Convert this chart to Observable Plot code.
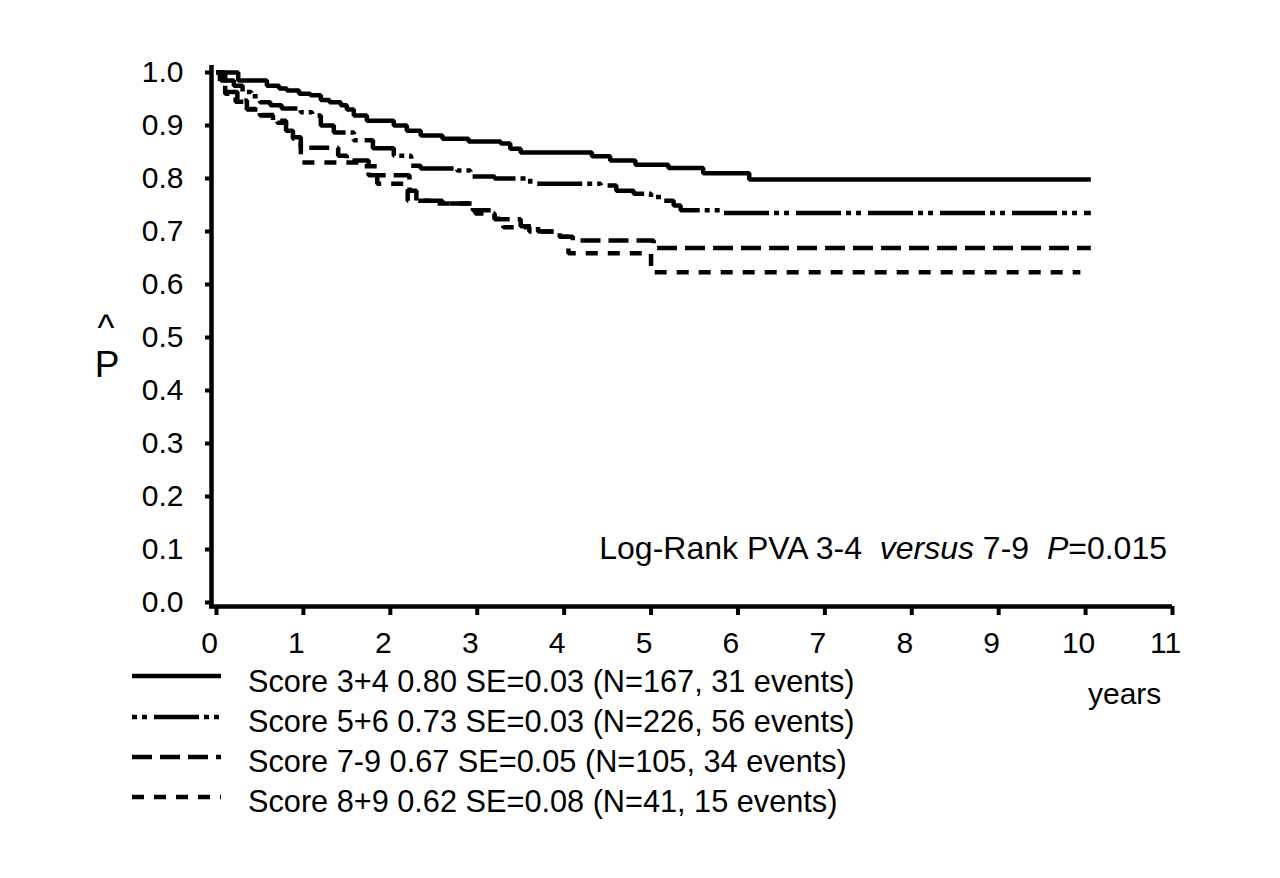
<!DOCTYPE html>
<html><head><meta charset="utf-8">
<script src="https://cdn.jsdelivr.net/npm/d3@7"></script>
<script src="https://cdn.jsdelivr.net/npm/@observablehq/plot@0.6"></script>
<style>
body{margin:0;background:#fff;}
#wrap{position:relative;width:1280px;height:878px;font-family:"Liberation Sans",Arial,sans-serif;background:#fff;}
#over{position:absolute;left:0;top:0;}
</style></head><body><div id="wrap"></div>
<script>
// ---- data ----
const legendLabels = [
  "Score 3+4 0.80 SE=0.03 (N=167, 31 events)",
  "Score 5+6 0.73 SE=0.03 (N=226, 56 events)",
  "Score 7-9 0.67 SE=0.05 (N=105, 34 events)",
  "Score 8+9 0.62 SE=0.08 (N=41, 15 events)"
];
const xTicks = [0,1,2,3,4,5,6,7,8,9,10,11];
const yTicks = [0,0.1,0.2,0.3,0.4,0.5,0.6,0.7,0.8,0.9,1.0];

const t34 = [0,0.25,0.58,0.72,0.81,0.95,1.08,1.2,1.3,1.43,1.5,1.58,1.73,2.04,2.19,2.35,2.6,2.9,3.27,3.38,3.5,4.32,4.53,4.82,5.2,5.6,6.13,10.06];
const s34 = [1.0,0.985,0.975,0.970,0.966,0.960,0.957,0.948,0.944,0.938,0.930,0.919,0.909,0.900,0.890,0.881,0.875,0.870,0.866,0.856,0.849,0.842,0.834,0.826,0.820,0.810,0.798,0.798];

const t56 = [0,0.1,0.2,0.3,0.4,0.5,0.62,0.75,0.97,1.1,1.2,1.35,1.58,1.8,2.04,2.24,2.35,2.77,2.92,3.2,3.61,4.42,4.6,4.8,5.0,5.15,5.26,5.34,5.8,10.06];
const s56 = [1.0,0.985,0.975,0.963,0.955,0.944,0.938,0.932,0.925,0.919,0.900,0.887,0.872,0.857,0.843,0.824,0.819,0.815,0.804,0.800,0.790,0.787,0.777,0.771,0.765,0.758,0.749,0.740,0.735,0.735];

const t79 = [0,0.05,0.12,0.24,0.35,0.5,0.65,0.8,0.88,0.97,1.0,1.4,1.5,1.75,2.22,2.3,2.6,2.95,3.2,3.5,3.7,3.95,4.1,5.03,10.06];
const s79 = [1.0,0.985,0.963,0.947,0.931,0.919,0.909,0.890,0.878,0.859,0.858,0.843,0.834,0.806,0.777,0.758,0.753,0.740,0.723,0.710,0.700,0.690,0.683,0.669,0.669];

const t89 = [0,0.04,0.1,0.22,0.35,0.5,0.7,0.8,0.88,0.97,1.7,1.85,2.2,2.5,2.98,3.2,3.3,3.6,3.95,4.05,5.0,9.94];
const s89 = [1.0,0.980,0.960,0.945,0.930,0.920,0.905,0.890,0.875,0.830,0.823,0.790,0.758,0.753,0.734,0.724,0.708,0.700,0.690,0.659,0.623,0.623];

const logRank = ["Log-Rank PVA 3-4  ", "versus", " 7-9  ", "P", "=0.015"];
const xUnit = "years";
// -----------------------------------

const toRows = (ts, ss) => ts.map((t, i) => ({t, s: ss[i]}));
const series = [
  {rows: toRows(t34, s34), dash: null},
  {rows: toRows(t56, s56), dash: "45 5 5 5 5 7"},
  {rows: toRows(t79, s79), dash: "20 8"},
  {rows: toRows(t89, s89), dash: "12 10"}
];

const FONT = '"Liberation Sans", Arial, sans-serif';
const chart = Plot.plot({
  width: 1280, height: 878,
  marginLeft: 216, marginRight: 108, marginTop: 72, marginBottom: 276,
  x: {domain: [0, 11], label: null},
  y: {domain: [0, 1], label: null},
  style: {fontFamily: FONT, fontSize: "30px", color: "#000", background: "#fff"},
  marks: [
    Plot.ruleX([0], {dx: -5, strokeWidth: 4.5, insetTop: -7, insetBottom: -4}),
    Plot.ruleY([0], {dy: 4, strokeWidth: 4.5, insetLeft: -7}),
    Plot.axisY({ticks: yTicks, tickFormat: d3.format(".1f"), tickSize: 6, tickPadding: 22, dx: -5, strokeWidth: 4, fontSize: 30, label: null}),
    Plot.axisX({ticks: xTicks, tickFormat: () => "", tickSize: 9, dy: 4, strokeWidth: 4, label: null}),
    Plot.axisX({ticks: xTicks, tickFormat: d3.format("d"), tickSize: 0, tickPadding: 25, dy: 4, dx: -7, fontSize: 30, label: null}),
    ...series.map(d => Plot.line(d.rows, {x: "t", y: "s", curve: "step-after", stroke: "#000", strokeWidth: 4.5, strokeDasharray: d.dash, strokeLinecap: "butt", strokeLinejoin: "miter"}))
  ]
});

const wrap = document.getElementById("wrap");
wrap.appendChild(chart);

// overlay: annotation, legend, y-label
const ns = "http://www.w3.org/2000/svg";
const over = document.createElementNS(ns, "svg");
over.setAttribute("id", "over");
over.setAttribute("width", 1280);
over.setAttribute("height", 878);
over.setAttribute("font-family", FONT);
wrap.appendChild(over);

function txt(parent, x, y, content, attrs = {}) {
  const t = document.createElementNS(ns, "text");
  t.setAttribute("x", x); t.setAttribute("y", y);
  for (const k in attrs) t.setAttribute(k, attrs[k]);
  if (content != null) t.textContent = content;
  parent.appendChild(t);
  return t;
}
function tspan(parent, content, attrs = {}) {
  const sp = document.createElementNS(ns, "tspan");
  for (const k in attrs) sp.setAttribute(k, attrs[k]);
  sp.textContent = content;
  parent.appendChild(sp);
  return sp;
}

// Log-rank annotation with italic parts
const lr = txt(over, 1167, 559, null, {"text-anchor": "end", "font-size": 32});
lr.style.whiteSpace = "pre";
logRank.forEach((s, i) => tspan(lr, s, (i === 1 || i === 3) ? {"font-style": "italic"} : {}));

// y label P-hat (one text element, two lines)
const yl = txt(over, 106, 336, null, {"text-anchor": "middle"});
tspan(yl, "^", {x: 106, y: 340, "font-size": 36, "font-family": '"Liberation Sans Narrow", "Liberation Sans", sans-serif'});
tspan(yl, "P", {x: 107, y: 377, "font-size": 37});

// x unit
txt(over, 1088, 704, xUnit, {"font-size": 30});

// legend
const lineY = [676, 717, 757, 797];
const textY = [692, 732, 772, 812];
const offsets = [0, 50, 0, 0];
legendLabels.forEach((lab, i) => {
  const l = document.createElementNS(ns, "line");
  l.setAttribute("x1", 132); l.setAttribute("x2", 221);
  l.setAttribute("y1", lineY[i]); l.setAttribute("y2", lineY[i]);
  l.setAttribute("stroke", "#000"); l.setAttribute("stroke-width", 4.5);
  if (series[i].dash) { l.setAttribute("stroke-dasharray", series[i].dash); l.setAttribute("stroke-dashoffset", offsets[i]); }
  over.appendChild(l);
  txt(over, 248, textY[i], lab, {"font-size": 30.7});
});
</script></body></html>
